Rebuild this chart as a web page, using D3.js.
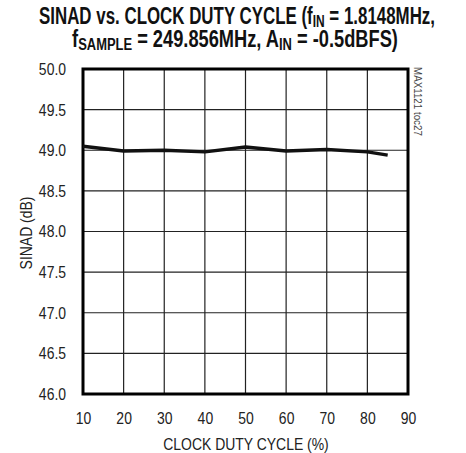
<!DOCTYPE html>
<html>
<head>
<meta charset="utf-8">
<script src="https://cdn.jsdelivr.net/npm/d3@7"></script>
<style>
  body { margin: 0; background: #fff; }
  text { font-family: "Liberation Sans", Arial, sans-serif; }
</style>
</head>
<body>
<script>
// data
const dutyCycle = [10, 20, 30, 40, 50, 60, 70, 80, 85];
const sinad = [49.05, 48.99, 49.0, 48.98, 49.04, 48.99, 49.01, 48.98, 48.94];
const xTicks = [10, 20, 30, 40, 50, 60, 70, 80, 90];
const yTicks = [46.0, 46.5, 47.0, 47.5, 48.0, 48.5, 49.0, 49.5, 50.0];

const W = 466, H = 453;
const margin = { top: 69, right: 58, bottom: 59, left: 83 },
  width = W - margin.left - margin.right,
  height = H - margin.top - margin.bottom;

const svg = d3.select("body").append("svg")
    .attr("width", W)
    .attr("height", H);

// squeeze a text horizontally (no narrow font installed)
const narrow = (sel, k) => sel.each(function() {
  const len = this.getComputedTextLength();
  d3.select(this).attr("textLength", len * k).attr("lengthAdjust", "spacingAndGlyphs");
});

// title, two lines, each scaled to fit its width
const titleLine = (cx, by, targetW, parts) => {
  const grp = svg.append("g").attr("transform", `translate(${cx}, ${by})`);
  const t = grp.append("text")
      .attr("text-anchor", "middle")
      .attr("font-weight", "bold")
      .attr("font-size", 24)
      .attr("fill", "#111");
  parts.forEach(([s, sub]) => {
    t.append("tspan")
      .attr("font-size", sub ? 17 : 24)
      .attr("dy", sub ? 3 : (t.node().childNodes.length ? -3 : 0))
      .text(s);
  });
  const w = t.node().getBBox().width;
  grp.attr("transform", `translate(${cx}, ${by}) scale(${targetW / w}, 1)`);
};
titleLine(237, 27, 396, [["SINAD vs. CLOCK DUTY CYCLE (f"], ["IN", true], [" = 1.8148MHz,"]]);
titleLine(235, 50, 326, [["f"], ["SAMPLE", true], [" = 249.856MHz, A"], ["IN", true], [" = -0.5dBFS)"]]);

const g = svg.append("g")
    .attr("transform", `translate(${margin.left}, ${margin.top})`);

const x = d3.scaleLinear().domain([10, 90]).range([0, width]);
const y = d3.scaleLinear().domain([46, 50]).range([height, 0]);

// grid
g.append("g").selectAll("line")
  .data(xTicks.slice(1, -1))
  .enter().append("line")
    .attr("x1", d => x(d)).attr("x2", d => x(d))
    .attr("y1", 0).attr("y2", height)
    .attr("stroke", "#222").attr("stroke-width", 1.2);
g.append("g").selectAll("line")
  .data(yTicks.slice(1, -1))
  .enter().append("line")
    .attr("y1", d => y(d)).attr("y2", d => y(d))
    .attr("x1", 0).attr("x2", width)
    .attr("stroke", "#222").attr("stroke-width", 1.2);

// frame
g.append("rect")
    .attr("width", width).attr("height", height)
    .attr("fill", "none").attr("stroke", "#000").attr("stroke-width", 3);

// axes (labels only)
const xAxis = g.append("g")
    .attr("transform", `translate(0, ${height})`)
    .call(d3.axisBottom(x).tickValues(xTicks).tickSize(0).tickPadding(18));
const yAxis = g.append("g")
    .call(d3.axisLeft(y).tickValues(yTicks).tickFormat(d3.format(".1f")).tickSize(0).tickPadding(17));
[xAxis, yAxis].forEach(a => {
  a.select(".domain").remove();
  a.selectAll("text")
    .attr("font-family", "'Liberation Sans', Arial, sans-serif")
    .attr("font-size", 17)
    .attr("fill", "#222")
    .call(narrow, 0.82);
});

// data line
const valueLine = d3.line()
    .x((d, i) => x(dutyCycle[i]))
    .y(d => y(d));
g.append("path")
    .datum(sinad)
    .attr("fill", "none")
    .attr("stroke", "#111")
    .attr("stroke-width", 3.5)
    .attr("stroke-linejoin", "round")
    .attr("d", valueLine);

// axis titles
svg.append("text")
    .attr("text-anchor", "middle")
    .attr("x", 246)
    .attr("y", 450)
    .attr("font-size", 17)
    .attr("fill", "#222")
    .text("CLOCK DUTY CYCLE (%)")
    .call(narrow, 0.82);

svg.append("text")
    .attr("text-anchor", "middle")
    .attr("transform", `translate(32, 233) rotate(-90)`)
    .attr("font-size", 17)
    .attr("fill", "#222")
    .text("SINAD (dB)")
    .call(narrow, 0.82);

// part-number tag
svg.append("text")
    .attr("transform", `translate(${margin.left + width + 6}, ${margin.top - 2}) rotate(90)`)
    .attr("font-size", 11.5)
    .attr("fill", "#444")
    .text("MAX1121 toc27")
    .call(narrow, 0.85);
</script>
</body>
</html>
